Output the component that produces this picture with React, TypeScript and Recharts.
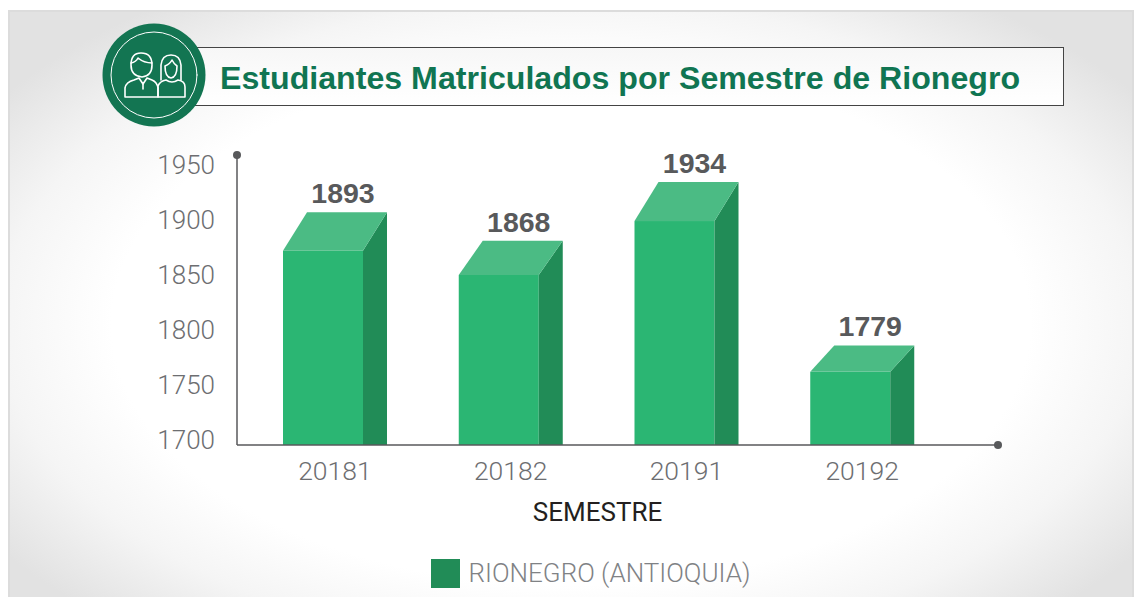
import React from "react";
import { BarChart, Bar, XAxis, YAxis, Legend, LabelList } from "recharts";

const SEMESTERS = ["20181", "20182", "20191", "20192"];
// printed on top of each bar
const LABELS = [1893, 1868, 1934, 1779];
// where the front face and the back edge of the 3D bars sit on the axis
const FRONT_TOPS = [1872, 1850, 1899, 1762];
const BACK_TOPS = [1907, 1881, 1934.5, 1786];
const Y_TICKS = [1700, 1750, 1800, 1850, 1900, 1950];
const Y_DOMAIN = [1695.5, 1959];

const DATA = SEMESTERS.map((semester, i) => ({
  semester,
  front: FRONT_TOPS[i],
  back: BACK_TOPS[i],
  label: LABELS[i],
}));

const SIDE = 24;
const FONT = "Roboto, sans-serif";

function Bar3D(props: any) {
  const { x, y, width, height, payload } = props;
  const perUnit = height / (payload.front - Y_DOMAIN[0]);
  const depth = (payload.back - payload.front) * perUnit;
  const fw = width - SIDE;
  const base = y + height;
  return (
    <g>
      <rect x={x} y={y} width={fw} height={height} fill="#2bb673" />
      <polygon
        points={`${x + fw},${y} ${x + width},${y - depth} ${x + width},${base} ${x + fw},${base}`}
        fill="#218c57"
      />
      <polygon
        points={`${x},${y} ${x + SIDE},${y - depth} ${x + width},${y - depth} ${x + fw},${y}`}
        fill="#4bbb84"
      />
    </g>
  );
}

function TopLabel(props: any) {
  const { x, y, width, index, value } = props;
  const depth = (BACK_TOPS[index] - FRONT_TOPS[index]) * 1.1;
  return (
    <text
      x={x + width / 2 + 8}
      y={y - depth - 19}
      textAnchor="middle"
      dominantBaseline="central"
      fontFamily="'Liberation Sans', Arial, sans-serif"
      fontWeight={700}
      fontSize={28.5}
      fill="#58595b"
    >
      {value}
    </text>
  );
}

function LegendBox() {
  return (
    <div style={{ display: "flex", alignItems: "center", justifyContent: "center", height: 30, marginLeft: 36 }}>
      <span style={{ width: 29, height: 29, background: "#218c57", marginRight: 9 }} />
      <span style={{ fontFamily: FONT, fontWeight: 300, fontSize: 26, color: "#808285" }}>
        RIONEGRO (ANTIOQUIA)
      </span>
    </div>
  );
}

function People() {
  return (
    <g fill="none" stroke="#fff" strokeWidth={1.6} strokeLinejoin="round" strokeLinecap="round">
      <circle cx={154} cy={75} r={43} strokeWidth={1} />
      <path d="M125 97 L125 88 Q126 82 134 80 L139 78 L143 84 L147 78 L152 80 Q157 82 158 88 L158 97 Z" />
      <path d="M143 84 L143 89" />
      <path d="M131 65 Q131 53 141 53 Q152 53 152 65 Q152 76 142 77 Q131 76 131 65 Z" />
      <path d="M131 63 Q136 62 138 58 Q144 63 152 63" />
      <path d="M158 97 L158 86 Q160 81 166 80 Q172 84 178 80 Q185 81 185 87 L185 97 Z" />
      <path d="M161 80 L161 65 Q162 55 171 55 Q180 55 181 65 L181 80" />
      <path d="M165 66 Q170 64 172 60 Q174 64 177 66 Q177 77 171 78 Q165 77 165 66 Z" />
    </g>
  );
}

export default function App() {
  return (
    <div style={{ position: "absolute", left: 0, top: 0, width: 1140, height: 597, overflow: "hidden", background: "#fff" }}>
      <div
        style={{
          position: "absolute",
          left: 8,
          top: 10,
          width: 1122,
          height: 600,
          border: "2px solid #dcdcdc",
          background: "radial-gradient(ellipse 62% 66% at 50% 52%, #fff 66%, #f5f5f5 82%, #e2e2e2 100%)",
        }}
      />
      <div
        style={{
          position: "absolute",
          left: 154,
          top: 47,
          width: 908,
          height: 57,
          border: "1px solid #444",
          background: "linear-gradient(#f7f7f7, #fff)",
        }}
      />
      <div
        style={{
          position: "absolute",
          left: 220,
          top: 58,
          fontFamily: "'Liberation Sans', Arial, sans-serif",
          fontWeight: 700,
          fontSize: 32.15,
          lineHeight: "40px",
          color: "#107552",
          whiteSpace: "nowrap",
        }}
      >
        Estudiantes Matriculados por Semestre de Rionegro
      </div>
      <svg width={1140} height={597} style={{ position: "absolute", left: 0, top: 0 }}>
        <circle cx={154} cy={75} r={51.5} fill="#137552" />
        <People />
        <circle cx={237} cy={155} r={4} fill="#58595b" />
        <circle cx={998} cy={445} r={4} fill="#58595b" />
      </svg>
      <div style={{ position: "absolute", left: 0, top: 0 }}>
        <BarChart width={1140} height={597} data={DATA} margin={{ top: 155, right: 142, bottom: 42, left: 147 }}>
          <XAxis
            dataKey="semester"
            padding={{ left: 10, right: 48 }}
            height={80}
            tickLine={false}
            axisLine={{ stroke: "#58595b", strokeWidth: 1.5 }}
            tickMargin={10}
            tick={{ fontFamily: FONT, fontWeight: 300, fontSize: 26.5, fill: "#6d6e71" }}
            label={{
              value: "SEMESTRE",
              position: "insideBottom",
              offset: 4,
              dx: -20,
              fontFamily: FONT,
              fontSize: 26,
              fill: "#231f20",
            }}
          />
          <YAxis
            domain={Y_DOMAIN}
            ticks={Y_TICKS}
            allowDataOverflow
            width={90}
            tickLine={false}
            axisLine={{ stroke: "#58595b", strokeWidth: 1.5 }}
            tickMargin={16}
            tick={{ fontFamily: FONT, fontWeight: 300, fontSize: 26, fill: "#6d6e71" }}
          />
          <Legend verticalAlign="bottom" height={30} wrapperStyle={{ bottom: 9 }} content={<LegendBox />} />
          <Bar dataKey="front" barSize={104} shape={<Bar3D />} isAnimationActive={false} legendType="none">
            <LabelList dataKey="label" content={<TopLabel />} />
          </Bar>
        </BarChart>
      </div>
    </div>
  );
}
